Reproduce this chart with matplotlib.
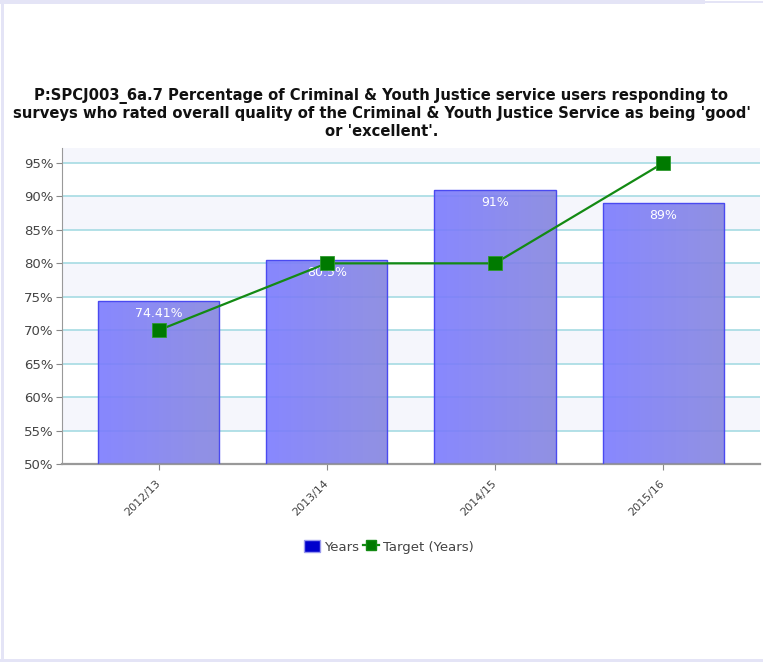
import matplotlib.pyplot as plt
import numpy as np
from matplotlib.colors import LinearSegmentedColormap
from matplotlib.lines import Line2D
from matplotlib.patches import Patch, Rectangle

years = ["2012/13", "2013/14", "2014/15", "2015/16"]
actual = [74.41, 80.5, 91, 89]
actual_labels = ["74.41%", "80.5%", "91%", "89%"]
target = [70, 80, 80, 95]

titulo = ("P:SPCJ003_6a.7 Percentage of Criminal & Youth Justice service users responding to\n"
          "surveys who rated overall quality of the Criminal & Youth Justice Service as being 'good'\n"
          "or 'excellent'.")

lilas = "#e4e4f6"
faixa = "#f5f6fc"

fig = plt.figure(figsize=(7.63, 6.62), dpi=100)
fig.patch.set_facecolor("white")

# bordas lilás da página (topo, esquerda, base)
fig.add_artist(Rectangle((0, 0.994), 0.924, 0.006, transform=fig.transFigure,
                         facecolor=lilas, edgecolor="none"))
fig.add_artist(Rectangle((0.924, 0.995), 0.076, 0.003, transform=fig.transFigure,
                         facecolor=lilas, edgecolor="none"))
fig.add_artist(Rectangle((0.0013, 0), 0.0039, 1, transform=fig.transFigure,
                         facecolor=lilas, edgecolor="none"))
fig.add_artist(Rectangle((0, 0), 1, 0.004, transform=fig.transFigure,
                         facecolor=lilas, edgecolor="none"))

ax = fig.add_axes([0.081, 0.299, 0.915, 0.477])
ax.set_facecolor("white")
ax.set_xlim(-0.575, 3.575)
ax.set_ylim(50, 97.2)

# faixas alternadas de fundo
for lo in [55, 65, 75, 85, 95]:
    ax.axhspan(lo, min(lo + 5, 97.2), facecolor=faixa, zorder=0, linewidth=0)

yt = np.arange(50, 96, 5)
for v in yt[1:]:
    ax.axhline(v, color="#a6dbe3", linewidth=1.2, zorder=1)

x = np.arange(len(years))
bars = ax.bar(x, np.array(actual) - 50, bottom=50, width=0.72, facecolor="none",
              edgecolor="#4a4af0", linewidth=1, zorder=3)

grad = LinearSegmentedColormap.from_list("barra", ["#7b7bff", "#8585df"])
for b in bars:
    x0, y0 = b.get_x(), b.get_y()
    w, h = b.get_width(), b.get_height()
    im = ax.imshow(np.linspace(0, 1, 64).reshape(1, -1), cmap=grad, aspect="auto",
                   extent=(x0, x0 + w, y0, y0 + h), alpha=0.9, zorder=2,
                   interpolation="bilinear")
    im.set_clip_path(b)

for xi, v, lab in zip(x, actual, actual_labels):
    ax.annotate(lab, (xi, v), xytext=(0, -9), textcoords="offset points",
                ha="center", va="center", color="white", fontsize=9, zorder=4)

ax.plot(x, target, color="#138a13", linewidth=1.6, marker="s", markersize=9.5,
        markerfacecolor="#007a00", markeredgecolor="#2e9a2e", markeredgewidth=0.6, zorder=5)

ax.set_yticks(yt)
ax.set_yticklabels([f"{v}%" for v in yt], fontsize=9.5, color="#444444")
ax.set_xticks(x)
ax.set_xticklabels(years, rotation=45, ha="right", va="center", rotation_mode="anchor",
                   fontsize=8, color="#444444")
ax.tick_params(axis="x", length=4, color="#888888", pad=9)
ax.tick_params(axis="y", length=4, color="#888888", pad=2)

for s in ["top", "right"]:
    ax.spines[s].set_visible(False)
ax.spines["left"].set_color("#999999")
ax.spines["bottom"].set_color("#999999")
ax.spines["bottom"].set_linewidth(1.6)

fig.text(0.5, 0.829, titulo, ha="center", va="center", fontsize=10.6, fontweight="bold",
         color="#111111", linespacing=1.22)

handles = [Patch(facecolor="#0000cc", edgecolor="#9999ee", label="Years"),
           Line2D([0], [0], color="#138a13", marker="s", markersize=7,
                  markerfacecolor="#007a00", linewidth=1.6, label="Target (Years)")]
fig.legend(handles=handles, loc="center", bbox_to_anchor=(0.51, 0.174), ncol=2,
           frameon=False, fontsize=9.5, labelcolor="#444444", handlelength=1.2,
           handletextpad=0.3, columnspacing=0.3, handleheight=1.0)

plt.savefig("out.png", dpi=100)
